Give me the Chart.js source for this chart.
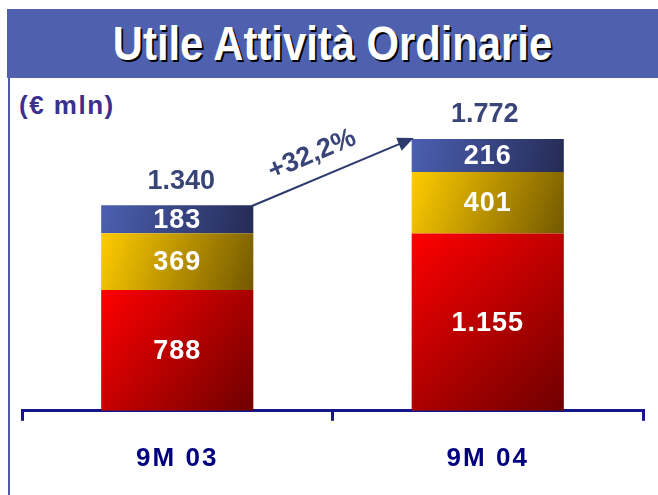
<!DOCTYPE html>
<html>
<head>
<meta charset="utf-8">
<script src="https://cdn.jsdelivr.net/npm/chart.js@4/dist/chart.umd.min.js"></script>
<style>
  body { margin: 0; background: #fff; width: 658px; height: 495px; overflow: hidden; position: relative; font-family: "Liberation Sans", Arial, sans-serif; }
  #banner { position: absolute; left: 7px; top: 9px; width: 651px; height: 69px; background: #4f60ae; text-align: center; }
  #banner h1 { display: inline-block; margin: 0; line-height: 69px; color: #fff; font-family: "Liberation Sans", Arial, sans-serif; font-weight: bold; font-size: 48px; transform: scaleX(0.87); text-shadow: 2px 2px 0 #000; }
  #leftline { position: absolute; left: 8px; top: 78px; width: 2px; height: 417px; background: #5058a8; }
  #unit { position: absolute; left: 19px; top: 90px; color: #3b318c; font-weight: bold; font-size: 26px; letter-spacing: 1.5px; }
  #chart { position: absolute; left: 0; top: 0; }
</style>
</head>
<body>
<div id="banner"><h1>Utile Attività Ordinarie</h1></div>
<div id="leftline"></div>
<div id="unit">(€ mln)</div>
<canvas id="chart" width="658" height="495"></canvas>
<script>
// Utile Attivita Ordinarie - stacked bars

const categories = ['9M 03', '9M 04'];
const redValues = [788, 1155];
const yellowValues = [369, 401];
const blueValues = [183, 216];
const totals = [1340, 1772];
const growthLabel = '+32,2%';

// gradient colours per dataset: top-left -> bottom-right
const gradientStops = [
  ['#ff0000', '#6e0000'],
  ['#ffcc00', '#735800'],
  ['#4c60b2', '#252b55']
];

function fmt(v) {
  return String(v).replace(/\B(?=(\d{3})+(?!\d))/g, '.');
}

const gradientPlugin = {
  id: 'gradients',
  beforeDatasetsDraw(chart) {
    const ctx = chart.ctx;
    chart.data.datasets.forEach((ds, di) => {
      const meta = chart.getDatasetMeta(di);
      meta.data.forEach(bar => {
        const p = bar.getProps(['x', 'y', 'base', 'width'], true);
        const g = ctx.createLinearGradient(p.x - p.width / 2, p.y, p.x + p.width / 2, p.base);
        g.addColorStop(0, gradientStops[di][0]);
        g.addColorStop(1, gradientStops[di][1]);
        bar.options = Object.assign({}, bar.options, { backgroundColor: g });
      });
    });
  }
};

const labelPlugin = {
  id: 'labels',
  beforeDraw(chart) {
    chart.ctx.letterSpacing = '2px';
  },
  afterDatasetsDraw(chart) {
    const ctx = chart.ctx;
    ctx.save();
    ctx.textAlign = 'center';
    ctx.textBaseline = 'middle';

    // values inside segments
    ctx.letterSpacing = '1px';
    ctx.fillStyle = '#ffffff';
    ctx.font = 'bold 27px "Liberation Sans", Arial, sans-serif';
    chart.data.datasets.forEach((ds, di) => {
      chart.getDatasetMeta(di).data.forEach((bar, i) => {
        const p = bar.getProps(['x', 'y', 'base'], true);
        ctx.fillText(fmt(ds.data[i]), p.x, (p.y + p.base) / 2 + 1);
      });
    });

    // totals above bars
    ctx.letterSpacing = '0px';
    const top = chart.getDatasetMeta(chart.data.datasets.length - 1).data;
    ctx.fillStyle = '#3a4577';
    ctx.font = 'bold 27px "Liberation Sans", Arial, sans-serif';
    top.forEach((bar, i) => {
      ctx.fillText(fmt(totals[i]), bar.x + (i === 0 ? 4 : -3), bar.y - 24);
    });

    // growth arrow
    const a = top[0], b = top[1];
    const x0 = a.x + a.width / 2 - 2, y0 = a.y + 1;
    const x1 = b.x - b.width / 2 + 2, y1 = b.y - 1;
    const ang = Math.atan2(y1 - y0, x1 - x0);
    ctx.strokeStyle = '#2e3a6e';
    ctx.fillStyle = '#2e3a6e';
    ctx.lineWidth = 2;
    ctx.beginPath();
    ctx.moveTo(x0, y0);
    ctx.lineTo(x1 - 10 * Math.cos(ang), y1 - 10 * Math.sin(ang));
    ctx.stroke();
    ctx.beginPath();
    ctx.moveTo(x1, y1);
    ctx.lineTo(x1 - 16 * Math.cos(ang) + 7 * Math.sin(ang), y1 - 16 * Math.sin(ang) - 7 * Math.cos(ang));
    ctx.lineTo(x1 - 16 * Math.cos(ang) - 7 * Math.sin(ang), y1 - 16 * Math.sin(ang) + 7 * Math.cos(ang));
    ctx.closePath();
    ctx.fill();

    const mx = (x0 + x1) / 2 - 12 * Math.cos(ang) + 24 * Math.sin(ang);
    const my = (y0 + y1) / 2 - 12 * Math.sin(ang) - 24 * Math.cos(ang);
    ctx.translate(mx, my);
    ctx.rotate(ang);
    ctx.fillStyle = '#3a4577';
    ctx.fillText(growthLabel, 0, 0);
    ctx.restore();
  }
};

new Chart(document.getElementById('chart'), {
  type: 'bar',
  data: {
    labels: categories,
    datasets: [
      { label: 'Red', data: redValues },
      { label: 'Yellow', data: yellowValues },
      { label: 'Blue', data: blueValues }
    ]
  },
  options: {
    responsive: false,
    animation: false,
    events: [],
    datasets: {
      bar: { categoryPercentage: 1, barPercentage: 0.49, borderWidth: 0, backgroundColor: '#888' }
    },
    layout: { padding: { left: 22, right: 15, top: 104, bottom: -1 } },
    plugins: {
      legend: { display: false },
      tooltip: { enabled: false }
    },
    scales: {
      x: {
        stacked: true,
        offset: true,
        grid: { display: true, offset: true, drawOnChartArea: false, drawTicks: true, tickLength: 10, color: '#16168a', lineWidth: 3 },
        border: { display: true, color: '#16168a', width: 3 },
        ticks: { color: '#000080', padding: 22, font: { family: '"Liberation Sans", Arial, sans-serif', size: 26, weight: 'bold' } }
      },
      y: { stacked: true, display: false, min: 0, max: 2000 }
    }
  },
  plugins: [gradientPlugin, labelPlugin]
});
</script>
</body>
</html>
